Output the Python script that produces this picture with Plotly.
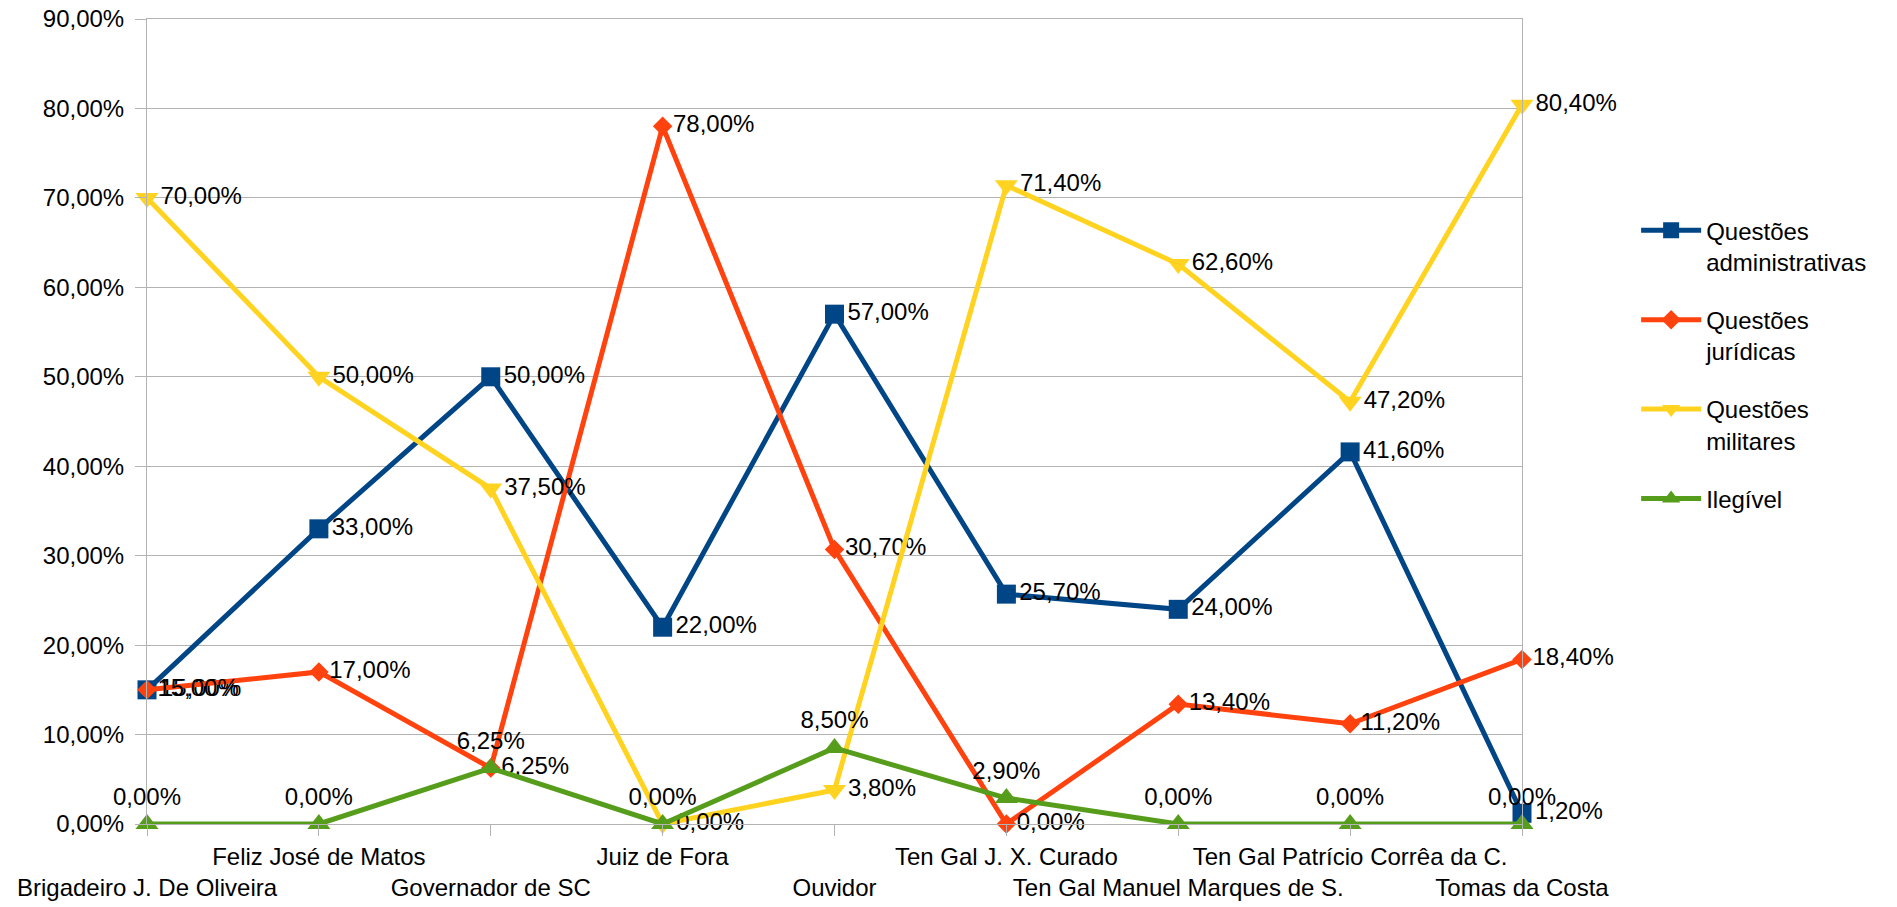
import plotly.graph_objects as go

# Categories (people / offices) along the x axis
categories = [
    "Brigadeiro J. De Oliveira",
    "Feliz José de Matos",
    "Governador de SC",
    "Juiz de Fora",
    "Ouvidor",
    "Ten Gal J. X. Curado",
    "Ten Gal Manuel Marques de S.",
    "Ten Gal Patrício Corrêa da C.",
    "Tomas da Costa",
]

# Share of each subject, in percent
administrativas = [15.00, 33.00, 50.00, 22.00, 57.00, 25.70, 24.00, 41.60, 1.20]
juridicas = [15.00, 17.00, 6.25, 78.00, 30.70, 0.00, 13.40, 11.20, 18.40]
militares = [70.00, 50.00, 37.50, 0.00, 3.80, 71.40, 62.60, 47.20, 80.40]
ilegivel = [0.00, 0.00, 6.25, 0.00, 8.50, 2.90, 0.00, 0.00, 0.00]

series_names = [
    "Questões<br>administrativas",
    "Questões<br>jurídicas",
    "Questões<br>militares",
    "Ilegível",
]

FONT = "Liberation Sans, Arial, sans-serif"
FS = 24
GRID = "#b3b3b3"

# Alternate the category labels between two rows so the long names fit
ticktext = [c if i % 2 == 1 else "<br>" + c for i, c in enumerate(categories)]

styles = [
    dict(data=administrativas, color="#004586", symbol="square", size=19, textpos="middle right"),
    dict(data=juridicas, color="#ff420e", symbol="diamond", size=15, textpos="middle right"),
    dict(data=militares, color="#ffd320", symbol="triangle-down", size=20, textpos="middle right"),
    dict(data=ilegivel, color="#579d1c", symbol="triangle-up", size=20, textpos="top center"),
]

fig = go.Figure()
for i, (name, st) in enumerate(zip(series_names, styles)):
    fig.add_trace(go.Scatter(
        x=categories,
        y=[v / 100 for v in st["data"]],
        name=name,
        legendgroup=f"g{i}",
        mode="lines+markers+text",
        line=dict(color=st["color"], width=5),
        marker=dict(symbol=st["symbol"], size=st["size"], color=st["color"]),
        texttemplate="%{y:.2%}",
        textposition=st["textpos"],
        textfont=dict(family=FONT, size=FS, color="#000000"),
        cliponaxis=False,
    ))

fig.update_layout(
    width=1897,
    height=907,
    margin=dict(l=147, r=375, t=19, b=83),
    paper_bgcolor="#ffffff",
    plot_bgcolor="#ffffff",
    separators=",.",
    font=dict(family=FONT, size=FS, color="#000000"),
    showlegend=True,
    legend=dict(
        x=1.083, xanchor="left",
        y=0.765, yanchor="top",
        valign="top",
        tracegroupgap=24,
        itemwidth=60,
        font=dict(family=FONT, size=FS, color="#000000"),
        bgcolor="rgba(0,0,0,0)",
    ),
)

fig.update_xaxes(
    type="category",
    range=[0, len(categories) - 1],
    tickvals=categories,
    ticktext=ticktext,
    tickangle=0,
    automargin=False,
    showgrid=False,
    showline=True,
    mirror=True,
    linecolor=GRID,
    linewidth=1,
    ticks="outside",
    ticklen=11,
    tickcolor=GRID,
    tickfont=dict(family=FONT, size=FS, color="#000000"),
    zeroline=False,
)

fig.update_yaxes(
    range=[0, 0.9],
    dtick=0.1,
    tickformat=".2%",
    automargin=False,
    showgrid=True,
    gridcolor=GRID,
    gridwidth=1,
    showline=True,
    mirror=True,
    linecolor=GRID,
    linewidth=1,
    ticks="outside",
    ticklen=11,
    tickcolor=GRID,
    ticklabelstandoff=6,
    tickfont=dict(family=FONT, size=FS, color="#000000"),
    zeroline=False,
)

fig.write_html("out.html")
